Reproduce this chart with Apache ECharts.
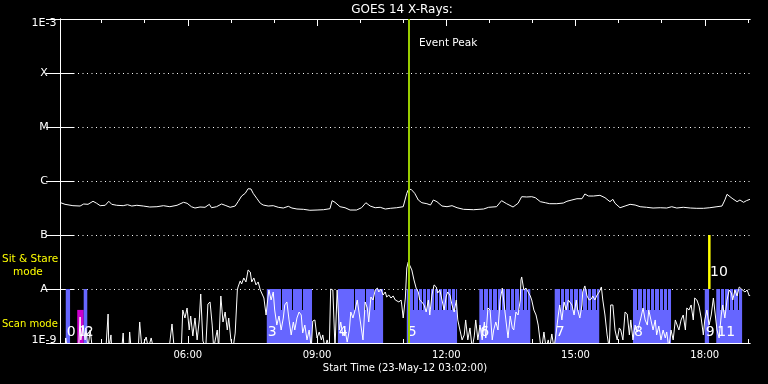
<!DOCTYPE html>
<html><head><meta charset="utf-8">
<script src="https://cdn.jsdelivr.net/npm/echarts@6/dist/echarts.min.js"></script>
<style>html,body{margin:0;padding:0;background:#000;}#c{width:768px;height:384px;}</style>
</head><body><div id="c"></div>
<script>
// ---------------- data ----------------
// time in minutes after the start time 23-May-12 03:02:00
const startClockMin = 3 * 60 + 2;
const endMin = 961;
const xTickLabels = ['06:00', '09:00', '12:00', '15:00', '18:00'];
const yTickLabels = ['1E-9', 'A', 'B', 'C', 'M', 'X', '1E-3'];

// long channel (1-8 A), flux in units of 1e-7 W/m^2
const longChannel = [
[1,3.96],[7,3.70],[18,3.49],[28,3.44],[33,3.75],[39,3.70],[46,4.21],[51,3.87],[56,3.49],[63,3.55],
[68,4.21],[72,3.70],[79,3.55],[88,3.49],[94,3.64],[100,3.44],[107,3.55],[116,3.44],[125,3.30],[135,3.34],
[144,3.49],[153,3.34],[163,3.55],[172,4.03],[177,3.87],[183,3.34],[188,3.16],[195,3.30],[202,3.26],[208,3.70],
[211,3.20],[218,3.34],[225,3.75],[230,3.55],[237,3.26],[244,3.44],[248,4.14],[253,5.27],[258,5.92],[262,7.20],
[266,7.11],[269,5.92],[274,4.78],[279,3.87],[283,3.59],[290,3.44],[297,3.49],[304,3.26],[311,3.16],[318,3.40],
[323,3.16],[330,3.03],[339,2.99],[348,2.87],[358,2.90],[367,2.94],[376,3.07],[379,4.32],[383,4.03],[390,3.34],
[397,3.20],[404,2.90],[413,2.90],[420,3.20],[426,3.96],[432,3.44],[439,3.20],[446,3.26],[453,3.03],[460,3.12],
[469,3.20],[478,3.34],[483,5.92],[485,6.81],[489,7.02],[494,5.92],[499,4.45],[504,3.96],[511,3.80],[516,3.59],
[520,4.45],[525,4.14],[532,3.44],[539,3.34],[546,3.49],[553,3.20],[562,2.99],[576,2.94],[590,3.03],[597,3.26],
[608,3.34],[615,4.32],[622,3.80],[631,3.30],[638,3.87],[643,5.12],[650,5.06],[657,5.12],[662,4.91],[669,4.14],
[676,3.96],[682,3.80],[692,3.80],[701,3.91],[706,4.21],[713,4.45],[720,4.70],[727,4.70],[731,5.75],[736,5.27],
[743,5.27],[752,5.43],[759,4.91],[766,4.14],[770,4.58],[773,3.87],[780,3.20],[787,3.44],[794,3.70],[801,3.59],
[808,3.34],[817,3.26],[826,3.16],[836,3.20],[845,3.16],[852,3.34],[859,3.16],[868,3.26],[878,3.16],[887,3.12],
[896,3.12],[905,3.20],[915,3.34],[922,3.44],[926,4.45],[929,5.67],[936,4.78],[943,4.14],[947,4.45],[952,4.03],
[956,4.32],[961,4.58]
];

// short channel (0.5-4 A), flux in units of 1e-9 W/m^2 (values below 1 fall under the axis)
const shortChannel = [
[0,0.8],[7,0.8],[8,1.24],[10,0.8],[26,0.8],[28,3.03],[29,1.14],[32,2.15],[35,1.14],[36,1.90],
[39,0.8],[42,1.74],[45,0.8],[64,0.8],[67,3.44],[68,0.8],[71,1.41],[72,0.8],[86,0.8],[88,1.53],
[89,0.8],[96,0.8],[97,1.60],[99,0.8],[109,0.8],[111,2.45],[114,0.8],[120,1.29],[123,0.8],[127,1.24],
[130,0.8],[152,0.8],[156,2.25],[159,0.8],[169,0.8],[171,4.08],[174,2.90],[177,4.45],[180,1.74],[182,3.16],
[185,1.35],[188,2.90],[191,1.14],[194,2.67],[196,8.08],[199,1.09],[203,0.8],[206,5.27],[209,5.75],[212,2.15],
[214,0.8],[219,1.74],[221,0.8],[224,7.42],[227,2.45],[230,3.75],[233,1.74],[235,2.90],[238,1.14],[241,0.8],
[244,1.53],[247,9.58],[248,10.9],[251,14.1],[253,12.4],[256,16.0],[259,13.5],[262,22.5],[263,24.5],[265,20.6],
[267,13.5],[270,16.0],[273,11.9],[276,13.5],[279,9.58],[281,8.80],[284,6.81],[287,3.30],[290,7.74],[291,9.58],
[294,6.26],[297,8.80],[299,4.08],[302,2.15],[305,3.16],[308,1.74],[311,2.90],[313,5.06],[316,5.75],[319,2.67],
[322,1.41],[325,2.45],[327,1.74],[330,2.90],[333,3.75],[336,3.30],[338,1.53],[341,2.15],[344,1.14],[347,1.74],
[350,0.8],[352,2.55],[355,2.67],[358,1.24],[361,1.60],[364,1.14],[366,1.41],[369,0.8],[372,1.14],[375,0.8],
[377,10.0],[380,9.58],[383,0.8],[386,9.58],[389,1.74],[391,2.45],[394,1.35],[397,1.74],[400,1.04],[403,1.74],
[405,3.75],[408,2.90],[411,4.08],[414,6.26],[416,6.81],[419,2.15],[422,1.14],[425,5.75],[428,4.45],[430,2.45],
[433,7.11],[436,6.26],[439,9.58],[442,10.4],[444,8.80],[447,10.0],[450,7.74],[453,8.80],[455,7.11],[458,7.74],
[461,6.81],[464,7.42],[467,6.26],[469,6.81],[472,5.75],[475,6.26],[476,5.06],[478,2.90],[481,6.81],[483,24.5],
[485,31.6],[487,30.3],[490,22.5],[493,14.7],[496,10.4],[499,8.80],[501,6.26],[504,5.75],[507,5.06],[510,3.75],
[513,6.26],[515,3.30],[518,7.74],[521,11.9],[524,10.9],[526,8.43],[529,9.58],[532,6.26],[535,4.08],[538,7.42],
[540,8.80],[543,7.74],[546,5.06],[549,3.75],[552,6.26],[554,2.67],[557,1.74],[560,1.14],[563,1.41],[565,2.67],
[568,1.14],[571,1.90],[574,0.8],[577,1.35],[579,2.67],[582,1.14],[585,2.15],[588,1.14],[591,2.45],[593,1.24],
[596,4.45],[599,4.08],[602,1.14],[604,1.74],[607,2.45],[610,1.74],[613,6.26],[616,10.4],[618,9.58],[621,2.67],
[624,1.24],[627,3.16],[630,1.90],[632,1.74],[635,3.75],[638,3.30],[641,6.26],[642,14.7],[643,16.7],[646,9.58],
[649,10.4],[652,8.80],[655,7.42],[657,6.26],[660,4.08],[663,3.30],[666,2.15],[669,1.00],[671,0.8],[674,1.60],
[677,0.8],[680,1.14],[682,0.8],[685,1.47],[688,0.8],[691,1.53],[694,3.30],[696,5.06],[699,2.67],[702,5.75],
[705,4.08],[708,6.26],[710,6.81],[713,5.06],[716,3.30],[719,6.26],[721,4.08],[724,2.90],[727,5.06],[728,8.80],
[731,11.4],[734,7.42],[737,6.26],[740,6.53],[742,7.42],[745,6.26],[748,7.74],[751,8.80],[754,10.9],[756,6.26],
[759,3.30],[762,1.41],[765,0.8],[767,5.06],[770,5.06],[773,1.74],[776,1.14],[779,1.90],[781,1.74],[784,1.14],
[787,3.75],[790,3.44],[793,1.41],[795,2.67],[798,1.14],[801,2.15],[804,1.60],[806,1.74],[809,2.90],[812,4.45],
[815,2.67],[818,2.15],[820,4.08],[823,2.67],[826,1.74],[829,2.67],[831,1.41],[834,2.06],[837,1.14],[840,1.74],
[843,1.24],[845,1.60],[848,0.8],[851,1.74],[854,1.14],[857,2.67],[859,2.90],[862,1.74],[865,2.67],[868,3.30],
[871,1.74],[873,4.45],[876,4.08],[879,5.06],[882,2.67],[884,6.81],[887,6.26],[890,4.84],[893,2.90],[896,1.41],
[898,2.67],[901,4.08],[904,2.15],[907,3.30],[910,6.81],[912,6.26],[915,1.74],[918,1.24],[921,3.30],[923,5.06],
[926,2.90],[929,6.26],[932,9.58],[935,8.43],[937,6.26],[940,9.58],[943,7.42],[946,10.9],[949,10.0],[951,10.4],
[954,8.80],[957,9.58],[960,7.42],[961,7.74]
];

const eventPeakMin = 486;

// observing-mode timeline (index = label number)
const modeType  = ['scan','point','scan','scan','scan','scan','scan','scan','scan','scan','stare','scan'];
const modeStart = [8, 24, 33, 288, 387, 483, 584, 689, 798, 898, 904, 914];
const modeEnd   = [14, 33, 38, 351, 450, 553, 655, 751, 851, 904, 904, 950];
const modeSteps = [
  [], [], [],
  [308, 323, 337],
  [409, 425, 437],
  [492, 499, 504, 510, 515, 521, 526, 532, 539, 545, 550],
  [589, 596, 602, 609, 614, 620, 627, 632, 639, 645, 650],
  [696, 702, 709, 715, 721, 727, 734, 740, 747],
  [804, 811, 816, 822, 827, 834, 840, 845],
  [], [],
  [919, 925, 932, 937, 944]
];

// ---------------- style constants ----------------
const FONT = '"DejaVu Sans", "Noto Sans", sans-serif';
const SCAN_BLUE = '#6666ff';
const POINT_MAGENTA = '#cc00cc';
const STARE_YELLOW = '#ffff00';
const PEAK_GREEN = '#99cc00';
const LVL_FULL = 1e-8, LVL_PART = 4.1e-9, LVL_STARE = 1e-7, Y_MIN = 1e-9, Y_MAX = 1e-3;

// ---------------- helpers ----------------
function clockToMin(s) { const [h, m] = s.split(':').map(Number); return h * 60 + m - startClockMin; }
function minToClock(v) {
  const t = Math.round(v) + startClockMin;
  const h = Math.floor(t / 60), m = t % 60;
  return String(h).padStart(2, '0') + ':' + String(m).padStart(2, '0');
}
const majorTicks = xTickLabels.map(clockToMin);
const hourTicks = [];
for (let h = Math.ceil(startClockMin / 60); h * 60 - startClockMin <= endMin; h++) hourTicks.push(h * 60 - startClockMin);

const longData = longChannel.map(([m, f]) => [m, f * 1e-7]);
const shortData = shortChannel.map(([m, f]) => [m, f * 1e-9]);
const modeData = modeStart.map((s, i) => [s, modeEnd[i], i, LVL_FULL]);

function renderMode(params, api) {
  const i = api.value(2);
  const type = modeType[i];
  const x0 = api.coord([api.value(0), Y_MIN])[0];
  const x1 = api.coord([api.value(1), Y_MIN])[0];
  const yBot = api.coord([0, Y_MIN])[1];
  const yFull = api.coord([0, LVL_FULL])[1];
  const yPart = api.coord([0, LVL_PART])[1];
  const ch = [];
  let labelY = yBot - 10.5;
  if (type === 'stare') {
    const yTop = api.coord([0, LVL_STARE])[1];
    ch.push({type: 'rect', shape: {x: x0 - 1, y: yTop, width: 2.5, height: yFull - yTop}, style: {fill: STARE_YELLOW}});
    labelY = yFull - 16.5;
  } else if (type === 'point') {
    ch.push({type: 'rect', shape: {x: x0, y: yPart, width: x1 - x0, height: yBot - yPart}, style: {fill: POINT_MAGENTA}});
  } else {
    ch.push({type: 'rect', shape: {x: x0, y: yFull, width: x1 - x0, height: yBot - yFull}, style: {fill: SCAN_BLUE}});
    modeSteps[i].forEach(st => {
      const xs = api.coord([st, Y_MIN])[0];
      ch.push({type: 'rect', shape: {x: Math.round(xs), y: yFull, width: 1, height: yPart - yFull}, style: {fill: '#000'}});
    });
  }
  ch.push({type: 'text', x: x0 + 1, y: labelY,
    style: {text: String(i), fill: '#fff', font: '14px ' + FONT, align: 'left', verticalAlign: 'middle'}});
  return {type: 'group', children: ch};
}

const chart = echarts.init(document.getElementById('c'), null, {renderer: 'canvas'});
const axisLineW = {show: true, lineStyle: {color: '#fff', width: 1}};
const xBase = {type: 'value', min: 0, max: endMin, axisLine: axisLineW, splitLine: {show: false}};
const yBase = {type: 'log', logBase: 10, min: Y_MIN, max: Y_MAX, axisLine: axisLineW, splitNumber: 6};

chart.setOption({
  animation: false,
  backgroundColor: '#000',
  grid: {left: 60, right: 18, top: 19, bottom: 41},
  xAxis: [
    Object.assign({}, xBase, {position: 'bottom',
      axisTick: {show: true, inside: true, length: 7, customValues: majorTicks, lineStyle: {color: '#fff'}},
      axisLabel: {show: true, customValues: majorTicks, formatter: minToClock, color: '#fff', fontSize: 10, fontFamily: FONT, margin: 7}}),
    Object.assign({}, xBase, {position: 'bottom',
      axisTick: {show: true, inside: true, length: 4, customValues: hourTicks, lineStyle: {color: '#fff'}},
      axisLabel: {show: false}}),
    Object.assign({}, xBase, {position: 'top',
      axisTick: {show: true, inside: true, length: 7, customValues: majorTicks, lineStyle: {color: '#fff'}},
      axisLabel: {show: false}}),
    Object.assign({}, xBase, {position: 'top',
      axisTick: {show: true, inside: true, length: 4, customValues: hourTicks, lineStyle: {color: '#fff'}},
      axisLabel: {show: false}})
  ],
  yAxis: [
    Object.assign({}, yBase, {position: 'left',
      axisTick: {show: true, inside: true, length: 14, lineStyle: {color: '#fff'}},
      splitLine: {show: true, lineStyle: {color: '#fff', width: 1, type: [1, 3.5]}},
      axisLabel: {show: true, color: '#fff', fontSize: 11, fontFamily: FONT, align: 'center', margin: 16,
        formatter: v => {
          const k = Math.round(Math.log10(v)) + 9;
          const t = yTickLabels[k];
          if (k === 0) return '{bot|' + t + '}';
          if (k === yTickLabels.length - 1) return '{top|' + t + '}';
          return t;
        },
        rich: {
          bot: {color: '#fff', fontSize: 11, fontFamily: FONT, padding: [0, 0, 6, 0]},
          top: {color: '#fff', fontSize: 11, fontFamily: FONT, padding: [8, 0, 0, 0]}
        }}}),
    Object.assign({}, yBase, {position: 'right',
      axisTick: {show: true, inside: true, length: 14, lineStyle: {color: '#fff'}},
      splitLine: {show: false}, axisLabel: {show: false}})
  ],
  series: [
    {type: 'custom', name: 'modes', xAxisIndex: 0, yAxisIndex: 0, z: 1, silent: true,
      renderItem: renderMode, encode: {x: [0, 1], y: 3}, data: modeData},
    {type: 'line', name: 'short', xAxisIndex: 0, yAxisIndex: 0, z: 3, silent: true, clip: true,
      showSymbol: false, symbol: 'none', data: shortData, lineStyle: {color: '#fff', width: 1}},
    {type: 'line', name: 'long', xAxisIndex: 0, yAxisIndex: 0, z: 3, silent: true, clip: true,
      showSymbol: false, symbol: 'none', data: longData, lineStyle: {color: '#fff', width: 1},
      markLine: {silent: true, symbol: ['none', 'none'], label: {show: false},
        lineStyle: {color: PEAK_GREEN, width: 2, type: 'solid'}, data: [{xAxis: eventPeakMin}]}}
  ]
});

const peakX = chart.convertToPixel({xAxisIndex: 0}, eventPeakMin);
chart.setOption({
  graphic: [
    {type: 'text', x: 402, y: 10, style: {text: 'GOES 14 X-Rays:', fill: '#fff', font: '12px ' + FONT, align: 'center', verticalAlign: 'middle'}},
    {type: 'text', x: 405, y: 368, style: {text: 'Start Time (23-May-12 03:02:00)', fill: '#fff', font: '10px ' + FONT, align: 'center', verticalAlign: 'middle'}},
    {type: 'text', x: peakX + 10, y: 43, style: {text: 'Event Peak', fill: '#fff', font: '10.5px ' + FONT, align: 'left', verticalAlign: 'middle'}},
    {type: 'text', x: 2, y: 259, style: {text: 'Sit & Stare', fill: STARE_YELLOW, font: '10.5px ' + FONT, align: 'left', verticalAlign: 'middle'}},
    {type: 'text', x: 13, y: 272, style: {text: 'mode', fill: STARE_YELLOW, font: '10.5px ' + FONT, align: 'left', verticalAlign: 'middle'}},
    {type: 'text', x: 2, y: 324, style: {text: 'Scan mode', fill: STARE_YELLOW, font: '10px ' + FONT, align: 'left', verticalAlign: 'middle'}}
  ]
});
</script>
</body></html>
